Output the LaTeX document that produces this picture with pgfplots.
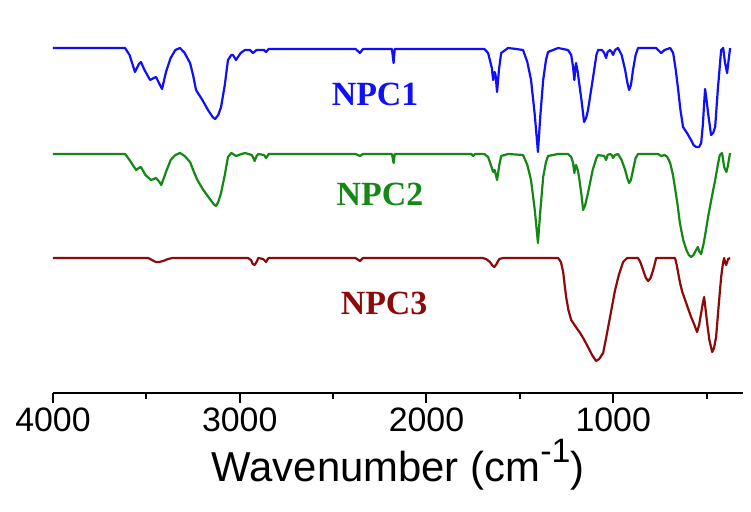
\documentclass[border=0pt]{standalone}
\usepackage{fontspec}
\setmainfont{Liberation Serif}
\newfontfamily\arial{Liberation Sans}
\usepackage{pgfplots}
\pgfplotsset{compat=1.18}
\definecolor{cblue}{RGB}{15,15,250}
\definecolor{cgreen}{RGB}{20,135,20}
\definecolor{cred}{RGB}{140,10,10}
\begin{document}
\begin{tikzpicture}
\begin{axis}[
  at={(0,0)}, anchor=south west,
  scale only axis, width=690bp, height=358bp,
  x dir=reverse, xmin=305, xmax=4000, ymin=-393, ymax=-35,
  axis x line*=bottom, axis y line=none,
  x axis line style={-, line width=2.2bp},
  xtick={1000,2000,3000,4000}, minor xtick={500,1500,2500,3500},
  tick align=outside,
  major tick length=10bp, minor tick length=6bp,
  every tick/.style={line width=2bp, black},
  /pgf/number format/1000 sep={},
  /pgf/number format/assume math mode=true,
  xticklabel style={font=\arial\fontsize{34}{34}\selectfont, yshift=-1bp},
  xlabel={Wavenumber (cm\raisebox{0.45em}{\fontsize{34}{34}\selectfont -1})},
  xlabel style={font=\arial\fontsize{42}{42}\selectfont, yshift=-1bp},
  clip=false,
  every axis plot/.append style={line width=2.2bp, line join=round},
]
\addplot[cblue] coordinates {
(4000,-48) (3614,-48) (3590,-55) (3561,-72) (3540,-64) (3529,-62) (3510,-70) (3480,-80) (3460,-78) (3448,-77) (3430,-84) (3416,-89) (3395,-72) (3370,-58) (3345,-50) (3320,-48) (3295,-53) (3266,-63) (3250,-75) (3234,-90) (3200,-100) (3170,-110) (3145,-117) (3132,-119) (3115,-115) (3100,-107) (3080,-85) (3063,-60) (3045,-55) (3036,-55) (3020,-60) (2995,-53) (2972,-50) (2945,-50) (2929,-53) (2910,-50) (2870,-50) (2859,-52) (2845,-49) (2380,-49) (2356,-53) (2340,-49) (2185,-49) (2176,-63) (2170,-49) (1690,-49) (1670,-53) (1650,-68) (1643,-80) (1635,-72) (1630,-75) (1622,-92) (1612,-70) (1600,-53) (1563,-48) (1520,-49) (1483,-50) (1460,-62) (1440,-80) (1420,-115) (1403,-152) (1390,-115) (1375,-80) (1360,-60) (1349,-52) (1295,-48) (1242,-50) (1225,-55) (1215,-67) (1208,-80) (1204,-70) (1199,-63) (1190,-72) (1183,-82) (1170,-100) (1156,-122) (1145,-118) (1135,-110) (1110,-80) (1090,-55) (1081,-50) (1060,-50) (1048,-53) (1038,-58) (1030,-52) (1017,-50) (1008,-52) (1001,-55) (990,-50) (974,-48) (955,-55) (936,-70) (925,-82) (915,-90) (905,-85) (894,-70) (880,-55) (867,-48) (770,-48) (760,-50) (743,-53) (725,-50) (695,-48) (679,-53) (665,-70) (652,-90) (640,-110) (626,-127) (605,-133) (583,-140) (570,-145) (556,-147) (540,-147) (529,-143) (520,-125) (513,-103) (508,-89) (500,-100) (492,-113) (476,-135) (465,-133) (454,-127) (440,-90) (422,-50) (411,-48) (401,-63) (390,-73) (382,-60) (374,-48)
};
\addplot[cgreen] coordinates {
(4000,-154) (3614,-154) (3590,-160) (3555,-170) (3540,-168) (3529,-167) (3505,-175) (3475,-180) (3460,-179) (3448,-178) (3430,-182) (3420,-185) (3395,-172) (3370,-160) (3345,-155) (3320,-153) (3295,-156) (3266,-162) (3245,-172) (3227,-180) (3195,-190) (3164,-198) (3140,-204) (3127,-206) (3115,-202) (3100,-193) (3080,-175) (3063,-157) (3045,-153) (3036,-154) (3020,-156) (2990,-154) (2972,-153) (2935,-155) (2920,-161) (2910,-156) (2900,-154) (2870,-155) (2859,-158) (2845,-154) (2380,-154) (2356,-156) (2340,-154) (2185,-154) (2176,-163) (2170,-154) (1760,-154) (1750,-156) (1740,-154) (1690,-154) (1670,-157) (1655,-165) (1643,-172) (1635,-170) (1622,-180) (1610,-165) (1600,-156) (1563,-154) (1483,-155) (1460,-165) (1440,-180) (1420,-210) (1403,-243) (1390,-210) (1375,-177) (1360,-162) (1349,-156) (1295,-154) (1242,-154) (1225,-157) (1215,-163) (1208,-173) (1204,-168) (1199,-165) (1190,-170) (1183,-177) (1170,-195) (1161,-210) (1150,-205) (1135,-193) (1110,-170) (1090,-158) (1081,-155) (1048,-156) (1038,-160) (1030,-155) (1017,-154) (1008,-155) (1001,-158) (990,-155) (974,-154) (955,-160) (936,-170) (925,-178) (915,-183) (905,-180) (894,-170) (880,-158) (867,-154) (760,-154) (743,-156) (725,-155) (710,-157) (695,-163) (680,-175) (670,-187) (655,-205) (643,-223) (625,-240) (608,-250) (595,-255) (583,-257) (570,-255) (556,-250) (547,-247) (538,-252) (529,-254) (515,-243) (505,-232) (492,-217) (475,-200) (454,-180) (440,-165) (429,-155) (417,-153) (406,-167) (394,-172) (385,-165) (381,-160) (374,-153)
};
\addplot[cred] coordinates {
(4000,-258) (3490,-258) (3470,-260) (3450,-262) (3432,-262) (3410,-261) (3384,-259) (3360,-258) (2955,-258) (2940,-260) (2930,-264) (2920,-265) (2910,-262) (2900,-258) (2875,-259) (2859,-262) (2850,-259) (2845,-258) (2380,-258) (2356,-261) (2340,-258) (1700,-258) (1681,-259) (1660,-262) (1645,-266) (1636,-267) (1625,-264) (1610,-259) (1590,-258) (1295,-258) (1280,-262) (1268,-272) (1260,-285) (1252,-297) (1240,-310) (1225,-320) (1200,-327) (1177,-333) (1155,-340) (1135,-347) (1110,-356) (1092,-361) (1075,-359) (1054,-353) (1035,-335) (1017,-317) (1000,-300) (990,-290) (970,-275) (947,-262) (925,-258) (867,-258) (855,-262) (840,-270) (825,-278) (813,-281) (800,-278) (786,-270) (775,-262) (770,-258) (669,-258) (660,-265) (650,-275) (642,-283) (630,-292) (615,-300) (600,-308) (583,-317) (565,-325) (551,-332) (540,-325) (529,-313) (520,-303) (513,-297) (505,-310) (497,-323) (485,-340) (470,-352) (460,-348) (449,-337) (435,-305) (422,-277) (412,-263) (406,-258) (400,-263) (395,-265) (385,-259) (374,-258)
};
\node[cblue, font=\bfseries\fontsize{34}{34}\selectfont] at (axis cs:2275,-94) {NPC1};
\node[cgreen, font=\bfseries\fontsize{34}{34}\selectfont] at (axis cs:2249,-194) {NPC2};
\node[cred, font=\bfseries\fontsize{34}{34}\selectfont] at (axis cs:2227,-303) {NPC3};
\end{axis}
\pgfresetboundingbox
\path[use as bounding box] (-53bp,-119bp) rectangle (698bp,393bp);
\end{tikzpicture}
\end{document}
